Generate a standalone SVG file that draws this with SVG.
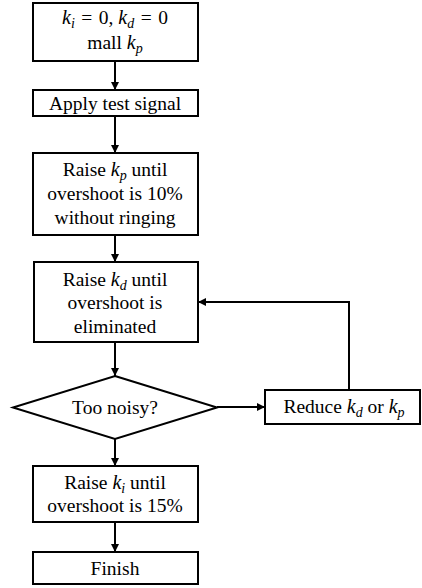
<svg xmlns="http://www.w3.org/2000/svg" width="422" height="588" viewBox="0 0 422 588" font-family="'Liberation Serif', 'Times New Roman', 'DejaVu Serif', serif">
<style>
.box{fill:#fff;stroke:#000;stroke-width:2}
text{font-family:'Liberation Serif','Times New Roman','DejaVu Serif',serif;font-size:19.5px;fill:#000;text-anchor:middle}
.i{font-style:italic;font-size:20px}
.s{font-style:italic;font-size:14px}
.c{fill:none;stroke:#000;stroke-width:2}
</style>
<defs>
<marker id="ah" viewBox="0 0 10 10" refX="10" refY="5" markerWidth="4" markerHeight="4" orient="auto" markerUnits="strokeWidth">
<path d="M0,0 L10,5 L0,10 z" fill="#000"/>
</marker>
</defs>
<rect width="422" height="588" fill="#fff"/>
<g id="connectors">
<line class="c" x1="115" y1="61" x2="115" y2="90" marker-end="url(#ah)"/>
<line class="c" x1="115" y1="116" x2="115" y2="153" marker-end="url(#ah)"/>
<line class="c" x1="115" y1="235" x2="115" y2="262" marker-end="url(#ah)"/>
<line class="c" x1="115" y1="342" x2="115" y2="376" marker-end="url(#ah)"/>
<line class="c" x1="115" y1="439" x2="115" y2="466" marker-end="url(#ah)"/>
<line class="c" x1="115" y1="522" x2="115" y2="552" marker-end="url(#ah)"/>
<line class="c" x1="217" y1="407" x2="265" y2="407" marker-end="url(#ah)"/>
<polyline class="c" points="349,390 349,302 198,302" marker-end="url(#ah)"/>
</g>
<g id="n1">
<rect class="box" x="33" y="3" width="165" height="58"/>
<text x="115" y="24"><tspan class="i">k</tspan><tspan class="s" dy="3.5">i</tspan><tspan dy="-3.5">&#8196;=&#8196;0, </tspan><tspan class="i">k</tspan><tspan class="s" dy="3.5">d</tspan><tspan dy="-3.5">&#8196;=&#8196;0</tspan></text>
<text x="115" y="49">mall <tspan class="i">k</tspan><tspan class="s" dy="3.5">p</tspan></text>
</g>
<g id="n2">
<rect class="box" x="33" y="90" width="165" height="26"/>
<text x="115" y="110">Apply test signal</text>
</g>
<g id="n3">
<rect class="box" x="33" y="153" width="165" height="82"/>
<text x="115" y="176">Raise <tspan class="i">k</tspan><tspan class="s" dy="3.5">p</tspan><tspan dy="-3.5"> until</tspan></text>
<text x="115" y="200">overshoot is 10%</text>
<text x="115" y="224">without ringing</text>
</g>
<g id="n4">
<rect class="box" x="34" y="262" width="164" height="80"/>
<text x="115" y="286">Raise <tspan class="i">k</tspan><tspan class="s" dy="3.5">d</tspan><tspan dy="-3.5"> until</tspan></text>
<text x="115" y="309">overshoot is</text>
<text x="115" y="333">eliminated</text>
</g>
<g id="n5">
<polygon class="box" points="115,376 217,407.5 115,439 13,407.5"/>
<text x="115" y="414">Too noisy?</text>
</g>
<g id="n6">
<rect class="box" x="265" y="390" width="155" height="34"/>
<text x="344" y="413">Reduce <tspan class="i">k</tspan><tspan class="s" dy="3.5">d</tspan><tspan dy="-3.5"> or </tspan><tspan class="i">k</tspan><tspan class="s" dy="3.5">p</tspan></text>
</g>
<g id="n7">
<rect class="box" x="33" y="466" width="165" height="56"/>
<text x="115" y="489">Raise <tspan class="i">k</tspan><tspan class="s" dy="3.5">i</tspan><tspan dy="-3.5"> until</tspan></text>
<text x="115" y="512">overshoot is 15%</text>
</g>
<g id="n8">
<rect class="box" x="33" y="552" width="165" height="32"/>
<text x="115" y="575">Finish</text>
</g>
</svg>
